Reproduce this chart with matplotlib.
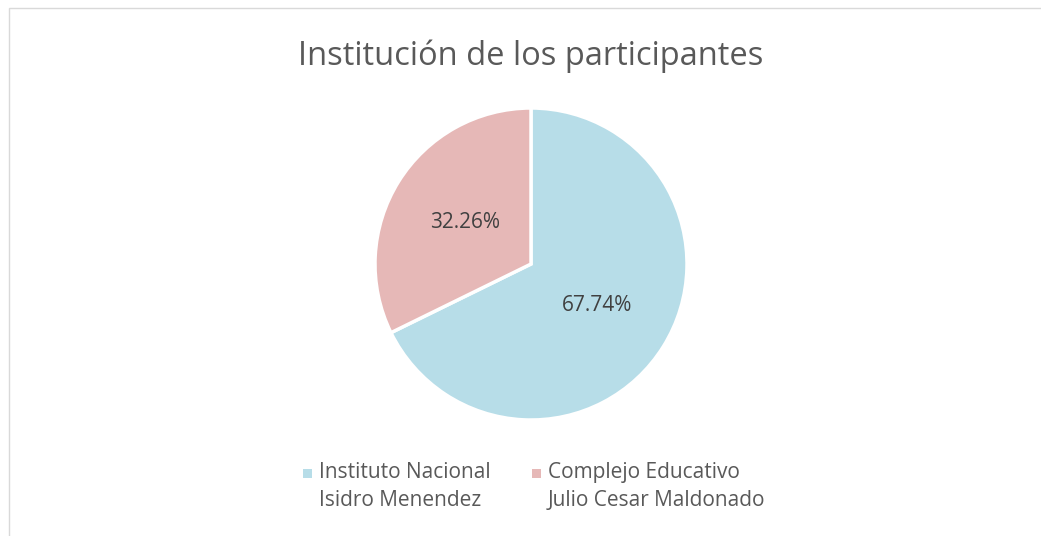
import matplotlib.pyplot as plt
from matplotlib.patches import Rectangle

plt.rcParams['font.family'] = ['Open Sans', 'DejaVu Sans']

# data
labels = ["Instituto Nacional\nIsidro Menendez", "Complejo Educativo\nJulio Cesar Maldonado"]
counts = [21, 10]
colors = ["#B7DDE8", "#E6B8B7"]
title = "Institución de los participantes"

W, H = 1041, 536
fig = plt.figure(figsize=(W / 100, H / 100), dpi=100)

# chart border (cut off at right / bottom)
fig.patches.append(Rectangle((9 / W, -0.1), 1.2, 1.1 - 8 / H, transform=fig.transFigure,
                             fill=False, edgecolor="#D9D9D9", linewidth=1.0))

# pie centred at (531, 264) px, radius 156 px
cx, cy, r = 531, 264, 156
ax = fig.add_axes([(cx - r) / W, (H - cy - r) / H, 2 * r / W, 2 * r / H])
wedges, texts, autotexts = ax.pie(counts, colors=colors, startangle=90, counterclock=False,
                                  autopct='%.2f%%', pctdistance=0.5, radius=1,
                                  wedgeprops=dict(edgecolor="white", linewidth=2.5),
                                  textprops=dict(fontsize=15, color="#404040"))
ax.set_xlim(-1, 1)
ax.set_ylim(-1, 1)
ax.set_aspect('equal')
ax.axis('off')

fig.text(531 / W, 1 - 56 / H, title, ha='center', va='center', fontsize=23.5, color="#595959")

# legend, drawn by hand so the marker sits on the first line
leg_x = [303, 532]
for x, lab, c in zip(leg_x, labels, colors):
    fig.patches.append(Rectangle((x / W, 1 - 478 / H), 9 / W, 9 / H, transform=fig.transFigure,
                                 facecolor=c, edgecolor='none'))
    fig.text((x + 16) / W, 1 - 462 / H, lab, ha='left', va='top', fontsize=15,
             color="#595959", linespacing=1.45)

fig.savefig("out.png", dpi=100, facecolor="white")
